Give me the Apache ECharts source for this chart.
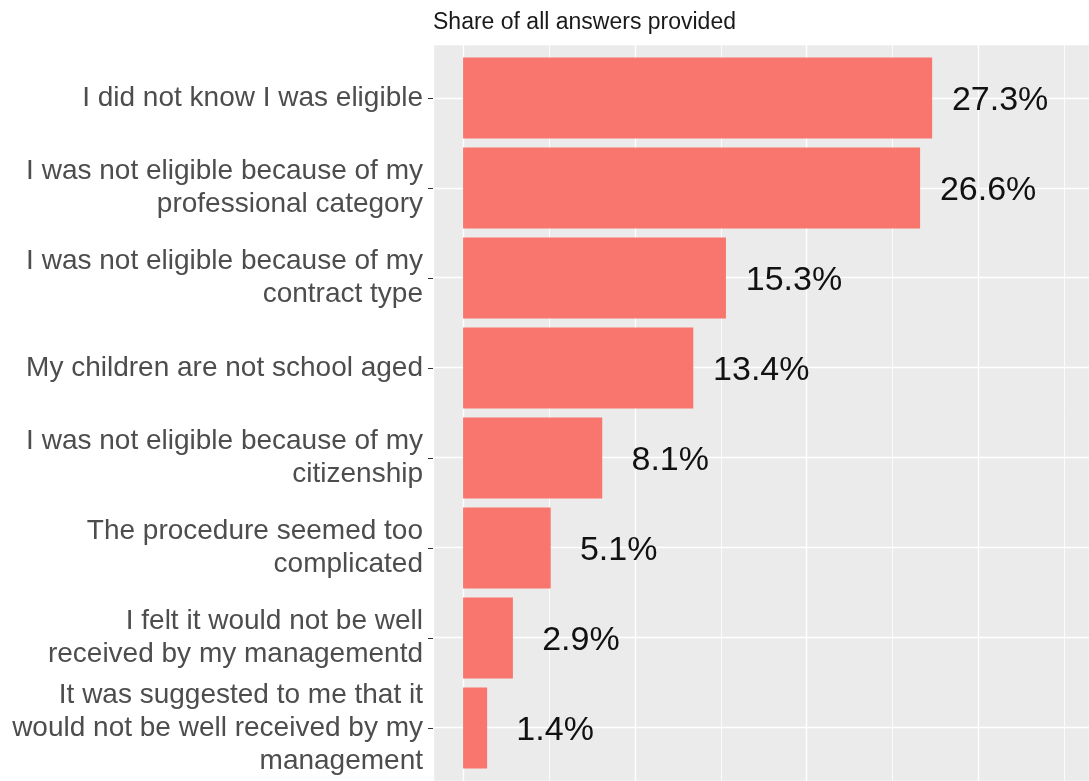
<!DOCTYPE html>
<html>
<head>
<meta charset="utf-8">
<script src="https://cdn.jsdelivr.net/npm/echarts@6/dist/echarts.min.js"></script>
<style>
  html, body { margin: 0; padding: 0; background: #ffffff; }
  #chart { width: 1089px; height: 781px; }
</style>
</head>
<body>
<div id="chart"></div>
<script>
// Reasons given, top to bottom
const categories = [
  'I did not know I was eligible',
  'I was not eligible because of my\nprofessional category',
  'I was not eligible because of my\ncontract type',
  'My children are not school aged',
  'I was not eligible because of my\ncitizenship',
  'The procedure seemed too\ncomplicated',
  'I felt it would not be well\nreceived by my managementd',
  'It was suggested to me that it\nwould not be well received by my\nmanagement'
];

// Share of all answers provided (%)
const shares = [27.3, 26.6, 15.3, 13.4, 8.1, 5.1, 2.9, 1.4];

const chartTitle = 'Share of all answers provided';

// Shared horizontal extent (percent) of the panel, including padding either side of the data
const xMin = -1.75;
const xMax = 36.43;

const FONT = "'Liberation Sans', Arial, Helvetica, sans-serif";

const chart = echarts.init(document.getElementById('chart'), null, { renderer: 'canvas' });

const hiddenValueAxis = (extra) => Object.assign({
  type: 'value',
  min: xMin,
  max: xMax,
  axisLine: { show: false },
  axisTick: { show: false },
  axisLabel: { show: false }
}, extra);

chart.setOption({
  animation: false,
  backgroundColor: '#ffffff',
  title: {
    text: chartTitle,
    left: 433,
    top: 11,
    padding: 0,
    textStyle: { fontFamily: FONT, fontSize: 23, fontWeight: 'normal', color: '#1a1a1a' }
  },
  grid: [
    // panel with grid lines
    { left: 433, right: 0, top: 44, bottom: 0, show: true, backgroundColor: '#EBEBEB', borderWidth: 0 },
    // bars, one 90px band per category
    { left: 433, right: 0, top: 53, height: 720, containLabel: false }
  ],
  xAxis: [
    // major vertical lines every 10%
    hiddenValueAxis({ gridIndex: 0, minInterval: 10, maxInterval: 10,
      splitLine: { show: true, lineStyle: { color: '#ffffff', width: 1.4 } } }),
    // minor vertical lines every 5%
    hiddenValueAxis({ gridIndex: 0, minInterval: 5, maxInterval: 5,
      splitLine: { show: true, lineStyle: { color: '#ffffff', width: 0.8 } } }),
    // value axis for the bars
    hiddenValueAxis({ gridIndex: 1, splitLine: { show: false } })
  ],
  yAxis: [
    // horizontal lines through each category centre
    {
      gridIndex: 0, type: 'value', inverse: true, min: -0.6, max: 7.6,
      minInterval: 1, maxInterval: 1,
      axisLine: { show: false, onZero: false }, axisTick: { show: false }, axisLabel: { show: false },
      splitLine: { show: true, lineStyle: { color: '#ffffff', width: 1.4 } }
    },
    {
      gridIndex: 1, type: 'category', inverse: true, data: categories,
      axisLine: { show: false, onZero: false },
      axisTick: { show: true, alignWithLabel: true, length: 5, lineStyle: { color: '#333333', width: 1 } },
      axisLabel: {
        margin: 10, fontFamily: FONT, fontSize: 28, lineHeight: 33, color: '#4d4d4d', align: 'right',
        padding: [6, 0, 0, 0]
      },
      splitLine: { show: false }
    }
  ],
  series: [
    {
      type: 'bar',
      xAxisIndex: 2,
      yAxisIndex: 1,
      data: shares,
      barWidth: '90%',
      itemStyle: { color: '#F8766D' },
      label: {
        show: true,
        position: 'right',
        distance: 68,
        align: 'center',
        verticalAlign: 'middle',
        offset: [0, 3],
        fontFamily: FONT,
        fontSize: 34,
        color: '#111111',
        formatter: (p) => p.value.toFixed(1) + '%'
      }
    }
  ]
});
</script>
</body>
</html>
